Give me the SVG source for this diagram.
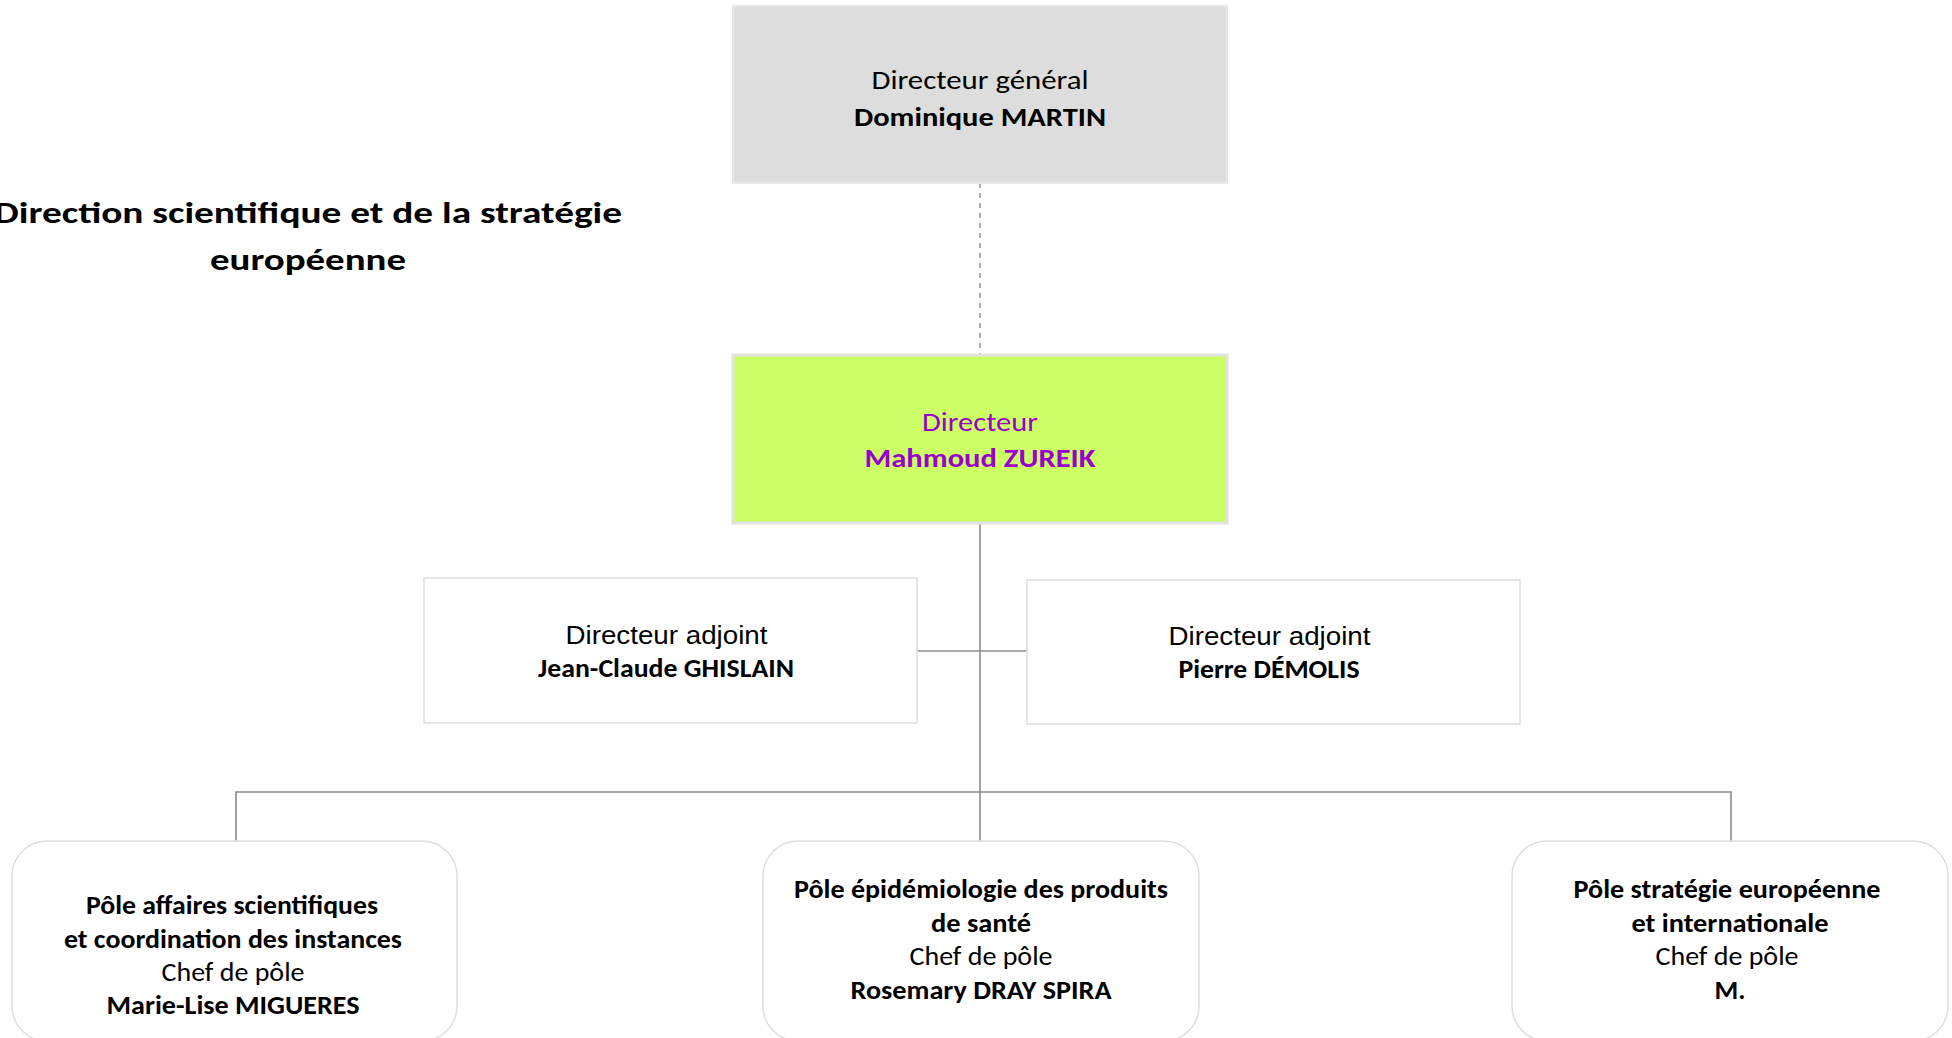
<svg xmlns="http://www.w3.org/2000/svg" width="1952" height="1038" viewBox="0 0 1952 1038">
<style>
.t{font-family:Carlito,Lato,"Open Sans",sans-serif;font-size:26px;fill:#000;text-anchor:middle}
.b{font-weight:bold}
.a{font-family:"Liberation Sans",Arial,sans-serif;font-size:25px;fill:#000;text-anchor:middle}
.p{fill:#9900CC}
.q{font-size:27px}
.box{fill:#fff;stroke:#DEDEDE;stroke-width:1.5}
.conn{stroke:#8C8C8C;stroke-width:1.6;fill:none}
</style>
<rect width="1952" height="1038" fill="#fff"/>
<g id="title">
<text class="t b" style="font-size:31px" x="308" y="223" textLength="628" lengthAdjust="spacingAndGlyphs">Direction scientifique et de la stratégie</text>
<text class="t b" style="font-size:31px" x="308" y="270" textLength="196" lengthAdjust="spacingAndGlyphs">européenne</text>
</g>
<g id="connectors">
<line class="conn" x1="980" y1="183" x2="980" y2="355" stroke-dasharray="5 5" style="stroke:#9A9A9A"/>
<line class="conn" x1="980" y1="523" x2="980" y2="841"/>
<line class="conn" x1="917" y1="651" x2="1027" y2="651"/>
<polyline class="conn" points="236,841 236,792 1731,792 1731,841"/>
</g>
<g id="node-dg">
<rect x="733" y="6" width="494" height="177" fill="#DDDDDD" stroke="#E8E8E8" stroke-width="2"/>
<text class="t" x="980" y="89" textLength="217" lengthAdjust="spacingAndGlyphs">Directeur général</text>
<text class="t b" x="980" y="126" textLength="252" lengthAdjust="spacingAndGlyphs">Dominique MARTIN</text>
</g>
<g id="node-directeur">
<rect x="733" y="355" width="494" height="168" fill="#CCFF66" stroke="#E2E2E2" stroke-width="3"/>
<text class="t p" x="980" y="431" textLength="116" lengthAdjust="spacingAndGlyphs">Directeur</text>
<text class="t b p" x="980" y="467" textLength="231" lengthAdjust="spacingAndGlyphs">Mahmoud ZUREIK</text>
</g>
<g id="node-adjoint-1">
<rect class="box" x="424" y="578" width="493" height="145"/>
<text class="a" x="666.5" y="644" textLength="202" lengthAdjust="spacingAndGlyphs">Directeur adjoint</text>
<text class="t b" x="666" y="677" textLength="256" lengthAdjust="spacingAndGlyphs">Jean-Claude GHISLAIN</text>
</g>
<g id="node-adjoint-2">
<rect class="box" x="1027" y="580" width="493" height="144"/>
<text class="a" x="1269.5" y="645" textLength="202" lengthAdjust="spacingAndGlyphs">Directeur adjoint</text>
<text class="t b" x="1269" y="678" textLength="181" lengthAdjust="spacingAndGlyphs">Pierre DÉMOLIS</text>
</g>
<g id="node-pole-1">
<rect class="box" x="12" y="841" width="445" height="200" rx="35" ry="35"/>
<text class="t q b" x="232" y="914" textLength="292" lengthAdjust="spacingAndGlyphs">Pôle affaires scientifiques</text>
<text class="t q b" x="233" y="948" textLength="338" lengthAdjust="spacingAndGlyphs">et coordination des instances</text>
<text class="t q" x="233" y="981" textLength="143" lengthAdjust="spacingAndGlyphs">Chef de pôle</text>
<text class="t q b" x="233" y="1014" textLength="253" lengthAdjust="spacingAndGlyphs">Marie-Lise MIGUERES</text>
</g>
<g id="node-pole-2">
<rect class="box" x="763" y="841" width="436" height="200" rx="35" ry="35"/>
<text class="t q b" x="981" y="898" textLength="374" lengthAdjust="spacingAndGlyphs">Pôle épidémiologie des produits</text>
<text class="t q b" x="981" y="932" textLength="100" lengthAdjust="spacingAndGlyphs">de santé</text>
<text class="t q" x="981" y="965" textLength="143" lengthAdjust="spacingAndGlyphs">Chef de pôle</text>
<text class="t q b" x="981" y="999" textLength="261" lengthAdjust="spacingAndGlyphs">Rosemary DRAY SPIRA</text>
</g>
<g id="node-pole-3">
<rect class="box" x="1512" y="841" width="436" height="200" rx="35" ry="35"/>
<text class="t q b" x="1727" y="898" textLength="307" lengthAdjust="spacingAndGlyphs">Pôle stratégie européenne</text>
<text class="t q b" x="1730" y="932" textLength="197" lengthAdjust="spacingAndGlyphs">et internationale</text>
<text class="t q" x="1727" y="965" textLength="143" lengthAdjust="spacingAndGlyphs">Chef de pôle</text>
<text class="t q b" x="1730" y="999" textLength="31" lengthAdjust="spacingAndGlyphs">M.</text>
</g>
</svg>
